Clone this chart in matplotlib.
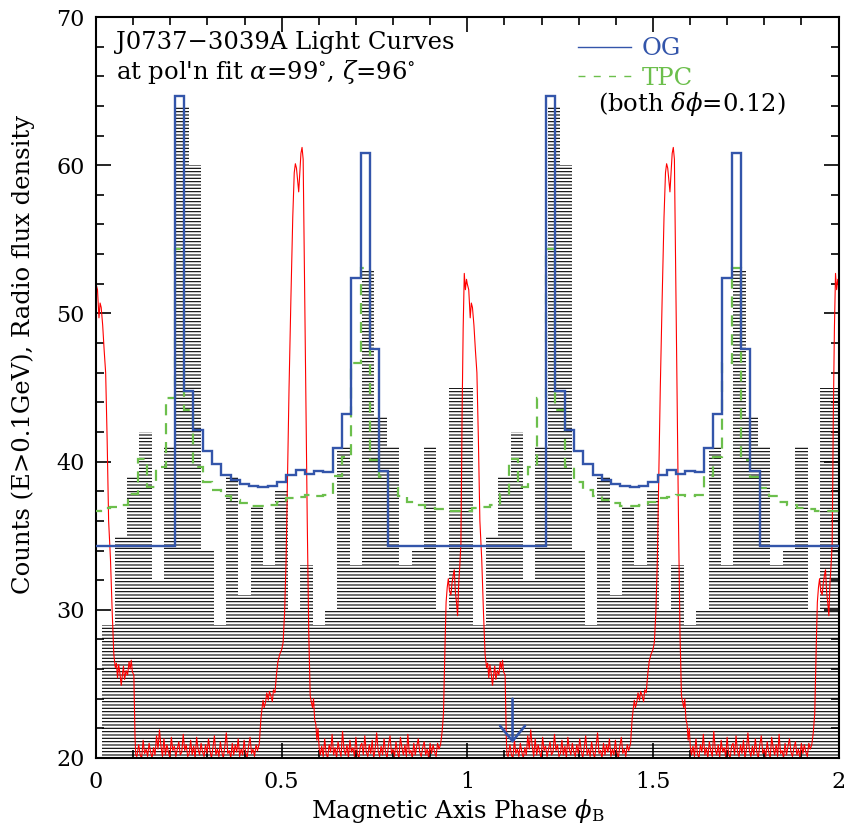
import numpy as np
import matplotlib
matplotlib.use('Agg')
import matplotlib.pyplot as plt
from matplotlib.lines import Line2D

# ---- data (one rotation, repeated for phase 1-2) ----
# gamma-ray counts, 30 bins per rotation, centred at (k+1)/30
count_centres = [(k + 1) / 30 for k in range(30)]
counts = [29, 35, 39, 42, 32, 41, 64, 60, 34, 29,
          39, 31, 37, 33, 38, 30, 33, 29, 30, 41,
          33, 53, 43, 41, 33, 34, 41, 30, 45, 45]

# model light curves, 40 bins per rotation centred at 0, 0.025, ...
model_centres = [k * 0.025 for k in range(40)]
og_curve = [34.3, 34.3, 34.3, 34.3, 34.3, 34.3, 34.3, 34.3, 34.3, 64.67,
            44.76, 42.1, 40.7, 39.86, 39.1, 38.76, 38.52, 38.34, 38.27, 38.38,
            38.6, 39.08, 39.4, 39.15, 39.37, 39.3, 40.9, 43.19, 52.37, 60.85,
            47.62, 39.34, 34.3, 34.3, 34.3, 34.3, 34.3, 34.3, 34.3, 34.3]
tpc_curve = [36.7, 36.85, 36.95, 37.07, 37.8, 40.2, 38.27, 39.66, 44.27, 54.33,
             43.48, 39.66, 38.65, 38.08, 37.68, 37.4, 37.2, 37.0, 37.0, 37.1,
             37.3, 37.52, 37.63, 37.75, 37.7, 37.75, 39.0, 40.33, 46.63, 53.04,
             40.1, 38.98, 38.2, 37.7, 37.3, 37.1, 36.9, 36.8, 36.7, 36.65]

# radio profile (scaled flux), one rotation
radio_phase = [0.000, 0.004, 0.008, 0.011, 0.014, 0.018, 0.022, 0.026, 0.030, 0.034,
               0.039, 0.044, 0.048, 0.052, 0.055, 0.058, 0.061, 0.064, 0.068, 0.071,
               0.074, 0.077, 0.081, 0.085, 0.089, 0.092, 0.095, 0.098, 0.102, 0.105,
               0.107, 0.110, 0.115, 0.119, 0.123, 0.127, 0.131, 0.135, 0.139, 0.143,
               0.147, 0.151, 0.155, 0.159, 0.163, 0.167, 0.171, 0.175, 0.179, 0.183,
               0.187, 0.191, 0.195, 0.199, 0.203, 0.207, 0.211, 0.215, 0.219, 0.223,
               0.227, 0.231, 0.235, 0.239, 0.243, 0.247, 0.251, 0.255, 0.259, 0.263,
               0.267, 0.271, 0.275, 0.279, 0.283, 0.287, 0.291, 0.295, 0.299, 0.303,
               0.307, 0.311, 0.315, 0.319, 0.323, 0.327, 0.331, 0.335, 0.339, 0.343,
               0.347, 0.351, 0.355, 0.359, 0.363, 0.367, 0.371, 0.375, 0.379, 0.383,
               0.387, 0.391, 0.395, 0.399, 0.403, 0.407, 0.411, 0.415, 0.419, 0.423,
               0.427, 0.431, 0.435, 0.440, 0.444, 0.447, 0.450, 0.453, 0.457, 0.460,
               0.464, 0.467, 0.471, 0.475, 0.478, 0.482, 0.486, 0.490, 0.495, 0.500,
               0.504, 0.508, 0.512, 0.516, 0.520, 0.525, 0.530, 0.534, 0.537, 0.540,
               0.543, 0.546, 0.549, 0.552, 0.555, 0.558, 0.561, 0.565, 0.569, 0.573,
               0.577, 0.580, 0.583, 0.586, 0.589, 0.592, 0.595, 0.598, 0.601, 0.604,
               0.608, 0.612, 0.616, 0.620, 0.624, 0.628, 0.632, 0.636, 0.640, 0.644,
               0.648, 0.652, 0.656, 0.660, 0.664, 0.668, 0.672, 0.676, 0.680, 0.684,
               0.688, 0.692, 0.696, 0.700, 0.704, 0.708, 0.712, 0.716, 0.720, 0.724,
               0.728, 0.732, 0.736, 0.740, 0.744, 0.748, 0.752, 0.756, 0.760, 0.764,
               0.768, 0.772, 0.776, 0.780, 0.784, 0.788, 0.792, 0.796, 0.800, 0.804,
               0.808, 0.812, 0.816, 0.820, 0.824, 0.828, 0.832, 0.836, 0.840, 0.844,
               0.848, 0.852, 0.856, 0.860, 0.864, 0.868, 0.872, 0.876, 0.880, 0.884,
               0.888, 0.892, 0.896, 0.900, 0.904, 0.908, 0.912, 0.916, 0.920, 0.924,
               0.928, 0.932, 0.936, 0.940, 0.943, 0.946, 0.949, 0.952, 0.956, 0.959,
               0.962, 0.965, 0.968, 0.971, 0.974, 0.977, 0.980, 0.983, 0.986, 0.989,
               0.992, 0.995, 0.998]
radio_flux = [52.0, 51.6, 49.7, 50.7, 50.4, 49.2, 47.5, 46.0, 41.5, 36.0,
              33.4, 29.6, 27.0, 26.1, 26.4, 25.4, 26.3, 25.8, 24.9, 25.6,
              26.2, 25.3, 25.9, 25.6, 26.5, 26.0, 26.6, 25.8, 25.6, 21.5,
              20.2, 20.1, 20.9, 20.2, 20.0, 21.2, 20.3, 20.6, 20.1, 21.0,
              20.4, 20.0, 20.7, 20.2, 21.5, 20.6, 21.9, 20.8, 20.1, 21.3,
              20.2, 20.9, 20.4, 20.0, 21.4, 20.5, 20.8, 20.1, 20.6, 21.1,
              20.2, 20.4, 21.6, 20.5, 20.9, 20.1, 20.3, 21.2, 20.2, 20.8,
              20.0, 21.4, 20.6, 20.2, 21.0, 20.4, 20.1, 20.9, 20.3, 21.3,
              20.5, 20.0, 20.7, 21.5, 20.2, 20.6, 20.1, 21.1, 20.4, 20.0,
              20.8, 21.7, 20.3, 20.5, 20.0, 21.0, 20.2, 20.9, 20.4, 21.3,
              20.1, 20.6, 20.2, 21.2, 20.4, 20.0, 20.8, 21.4, 20.3, 20.6,
              20.1, 20.9, 20.5, 21.0, 22.6, 23.3, 23.9, 23.4, 23.8, 24.4,
              23.9, 24.5, 24.2, 23.8, 24.6, 24.4, 25.6, 26.5, 27.0, 27.3,
              27.8, 29.8, 33.3, 39.0, 45.0, 51.0, 56.5, 59.5, 60.1, 59.8,
              59.0, 58.2, 59.5, 60.8, 61.2, 60.4, 54.0, 45.0, 36.0, 28.5,
              24.2, 23.8, 23.4, 24.0, 22.6, 22.3, 21.2, 22.0, 20.7, 20.2,
              20.8, 20.1, 21.3, 20.3, 20.0, 20.9, 20.4, 21.6, 20.2, 20.7,
              20.0, 21.1, 20.5, 20.1, 21.8, 20.6, 20.2, 20.9, 20.0, 21.2,
              20.4, 20.7, 20.1, 21.4, 20.3, 20.0, 20.8, 21.0, 20.2, 21.5,
              20.4, 20.1, 20.9, 20.3, 21.2, 20.0, 20.6, 21.7, 20.5, 20.1,
              20.8, 20.2, 21.3, 20.4, 20.0, 20.9, 21.5, 20.3, 20.6, 20.1,
              21.1, 20.4, 20.0, 21.4, 20.7, 20.2, 20.9, 20.1, 21.6, 20.3,
              20.5, 20.0, 21.0, 20.2, 20.8, 21.3, 20.4, 20.1, 20.7, 21.1,
              20.2, 20.6, 20.0, 21.0, 20.3, 20.9, 20.4, 20.1, 21.0, 20.6,
              20.9, 21.7, 23.0, 27.5, 30.5, 31.5, 32.1, 31.3, 31.0, 31.8,
              32.3, 32.7, 31.2, 30.5, 29.6, 31.8, 33.0, 34.5, 43.0, 49.0,
              52.7, 51.6, 52.3]

arrow_phase = 1.122
n_rot = 2

# ---- repeat the rotation ----
hist_x = np.concatenate([np.array(count_centres) + r for r in range(n_rot)])
hist_y = np.tile(counts, n_rot)

step = model_centres[1] - model_centres[0]
edges = np.concatenate([np.array(model_centres) + r for r in range(n_rot)] + [[n_rot]]) - step / 2
edges = np.append(edges, n_rot + step / 2)
og_y = np.append(np.tile(og_curve, n_rot), og_curve[0])
tpc_y = np.append(np.tile(tpc_curve, n_rot), tpc_curve[0])

radio_x = np.concatenate([np.array(radio_phase) + r for r in range(n_rot)] + [[n_rot]])
radio_y = np.append(np.tile(radio_flux, n_rot), radio_flux[0])

# ---- plotting ----
plt.rcParams['font.family'] = ['DejaVu Serif']
plt.rcParams['mathtext.fontset'] = 'dejavuserif'
plt.rcParams['hatch.linewidth'] = 0.8

blue = '#3355aa'
green = '#6cbf4c'
fs = 17.5

fig = plt.figure(figsize=(8.44, 8.27), dpi=100)
ax = fig.add_axes([96 / 844, 69 / 827, 742.5 / 844, 741 / 827])

ax.bar(hist_x, hist_y, width=1 / 30, facecolor='none', edgecolor='black',
       linewidth=0, hatch='-----', zorder=1)
ax.plot(radio_x, radio_y, color='red', lw=0.8, zorder=2)
ax.stairs(tpc_y, edges, baseline=None, color=green, lw=1.6,
          linestyle=(0, (5, 3.5)), zorder=3)
ax.stairs(og_y, edges, baseline=None, color=blue, lw=1.7, zorder=4)

# arrow marking the phase of the magnetic pole crossing
ax.annotate('', xy=(arrow_phase, 21.0), xytext=(arrow_phase, 24.0),
            arrowprops=dict(arrowstyle='->,head_length=0.55,head_width=0.45',
                            color=blue, lw=1.9, mutation_scale=20,
                            shrinkA=0, shrinkB=0), zorder=5)

ax.set_xlim(0, 2)
ax.set_ylim(20, 70)
ax.set_xticks([0, 0.5, 1, 1.5, 2])
ax.set_xticklabels(['0', '0.5', '1', '1.5', '2'])
ax.set_xticks(np.arange(0, 2.01, 0.1), minor=True)
ax.set_yticks(range(20, 71, 10))
ax.set_yticks(range(20, 71, 2), minor=True)
ax.tick_params(which='both', direction='in', top=True, right=True,
               labelsize=16, width=1.2)
ax.tick_params(which='major', length=11)
ax.tick_params(which='minor', length=5.5)
ax.tick_params(axis='x', pad=9)
ax.tick_params(axis='y', pad=8)
for s in ax.spines.values():
    s.set_linewidth(1.5)

ax.set_xlabel(r'Magnetic Axis Phase $\phi_{\mathrm{B}}$', fontsize=fs)
ax.set_ylabel('Counts (E>0.1GeV), Radio flux density', fontsize=fs)
ax.xaxis.set_label_coords(0.4875, -0.052)
ax.yaxis.set_label_coords(-0.082, 0.544)

ax.text(0.027, 0.966, 'J0737\u22123039A Light Curves', transform=ax.transAxes,
        fontsize=fs, va='center', ha='left')
ax.text(0.027, 0.926, "at pol'n fit " + r'$\alpha$=99$^{\circ}$, $\zeta$=96$^{\circ}$',
        transform=ax.transAxes, fontsize=fs, va='center', ha='left')

handles = [Line2D([], [], color=blue, lw=1.0),
           Line2D([], [], color=green, lw=1.0, linestyle=(0, (5, 6)))]
leg = ax.legend(handles, ['OG', 'TPC'], loc='upper left',
                bbox_to_anchor=(0.649, 0.973), frameon=False, fontsize=fs,
                handlelength=2.2, handletextpad=0.42, labelspacing=0.27,
                borderpad=0, borderaxespad=0, labelcolor=[blue, green])
ax.text(0.676, 0.882, r'(both $\delta\phi$=0.12)', transform=ax.transAxes,
        fontsize=fs, va='center', ha='left')

fig.savefig('out.png', dpi=100)
plt.close(fig)
